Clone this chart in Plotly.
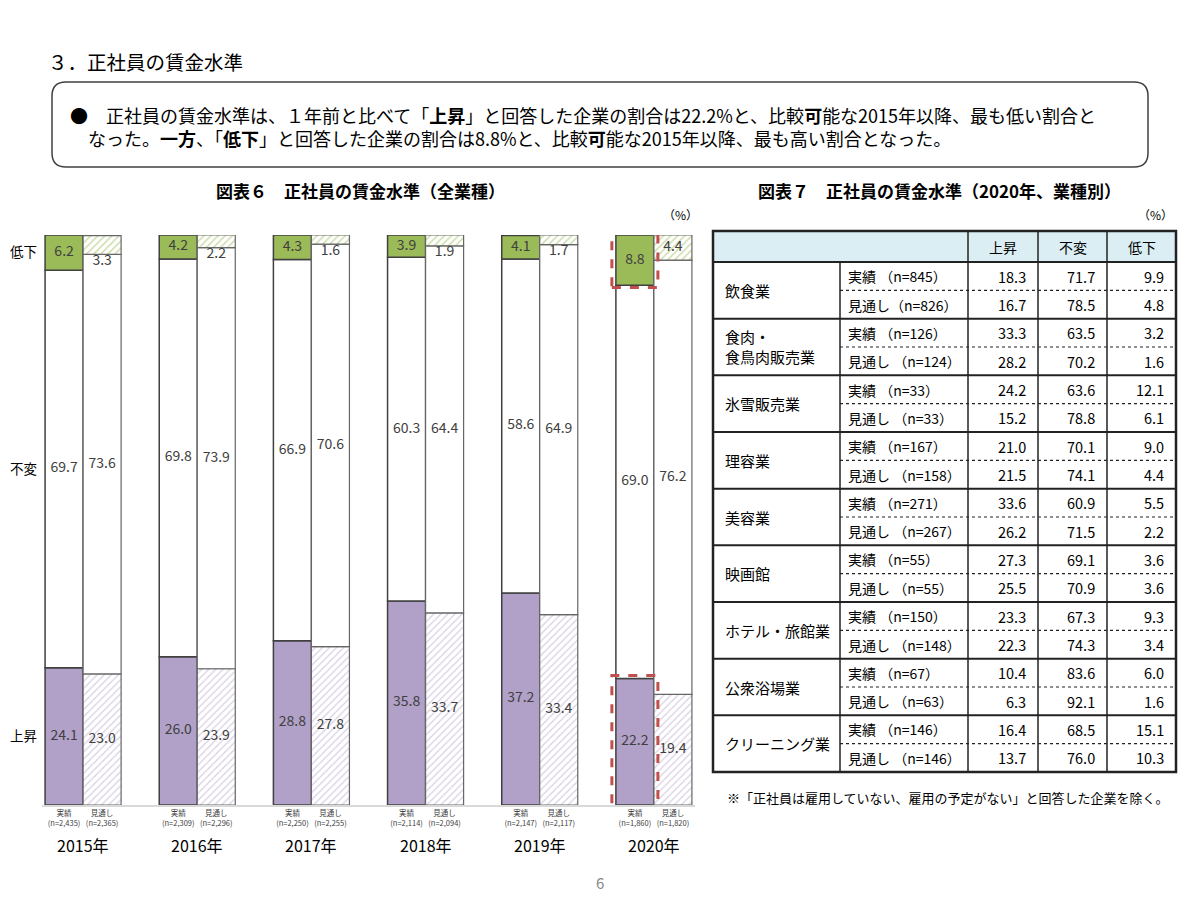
import plotly.graph_objects as go

# the page body adds an 8px margin, so the figure is drawn 8px in from the window edge
PAD = 8
W, H = 1200 - PAD, 900 - PAD
FONT = "Noto Sans CJK JP"

# 図表6 data
years = ["2015年", "2016年", "2017年", "2018年", "2019年", "2020年"]
n_actual = ["2,435", "2,309", "2,250", "2,114", "2,147", "1,860"]
n_forecast = ["2,365", "2,296", "2,255", "2,094", "2,117", "1,820"]
up_actual = [24.1, 26.0, 28.8, 35.8, 37.2, 22.2]
same_actual = [69.7, 69.8, 66.9, 60.3, 58.6, 69.0]
down_actual = [6.2, 4.2, 4.3, 3.9, 4.1, 8.8]
up_forecast = [23.0, 23.9, 27.8, 33.7, 33.4, 19.4]
same_forecast = [73.6, 73.9, 70.6, 64.4, 64.9, 76.2]
down_forecast = [3.3, 2.2, 1.6, 1.9, 1.7, 4.4]

# 図表7 data
industries = ["飲食業", "食肉・<br>食鳥肉販売業", "氷雪販売業", "理容業", "美容業",
              "映画館", "ホテル・旅館業", "公衆浴場業", "クリーニング業"]
ind_n_actual = [845, 126, 33, 167, 271, 55, 150, 67, 146]
ind_n_forecast = [826, 124, 33, 158, 267, 55, 148, 63, 146]
ind_up_actual = [18.3, 33.3, 24.2, 21.0, 33.6, 27.3, 23.3, 10.4, 16.4]
ind_same_actual = [71.7, 63.5, 63.6, 70.1, 60.9, 69.1, 67.3, 83.6, 68.5]
ind_down_actual = [9.9, 3.2, 12.1, 9.0, 5.5, 3.6, 9.3, 6.0, 15.1]
ind_up_forecast = [16.7, 28.2, 15.2, 21.5, 26.2, 25.5, 22.3, 6.3, 13.7]
ind_same_forecast = [78.5, 70.2, 78.8, 74.1, 71.5, 70.9, 74.3, 92.1, 76.0]
ind_down_forecast = [4.8, 1.6, 6.1, 4.4, 2.2, 3.6, 3.4, 1.6, 10.3]
table_cols = ["上昇", "不変", "低下"]

PURPLE = "#B1A0C7"
GREEN = "#9BBB59"
EDGE = "#404040"
BW = 0.333
OFF = BW / 2

xa = [i - OFF for i in range(len(years))]
xf = [i + OFF for i in range(len(years))]
base_same_a = up_actual
base_down_a = [u + s for u, s in zip(up_actual, same_actual)]
base_same_f = up_forecast
base_down_f = [u + s for u, s in zip(up_forecast, same_forecast)]


def px(x):
    return (x - PAD) / W


def py(y):
    return 1 - (y - PAD) / H


fig = go.Figure()

# 実績 bars
fig.add_bar(x=xa, y=up_actual, base=[0] * 6, width=BW,
            marker=dict(color=PURPLE, line=dict(color=EDGE, width=1.5)))
fig.add_bar(x=xa, y=same_actual, base=base_same_a, width=BW,
            marker=dict(color="white", line=dict(color=EDGE, width=1.5)))
fig.add_bar(x=xa, y=down_actual, base=base_down_a, width=BW,
            marker=dict(color=GREEN, line=dict(color=EDGE, width=1.5)))
# 見通し bars (hatched)
fig.add_bar(x=xf, y=up_forecast, base=[0] * 6, width=BW,
            marker=dict(color="white", line=dict(color="#666666", width=1.2),
                        pattern=dict(shape="/", fgcolor=PURPLE, bgcolor="white", size=5, solidity=0.25)))
fig.add_bar(x=xf, y=same_forecast, base=base_same_f, width=BW,
            marker=dict(color="white", line=dict(color="#666666", width=1.2)))
fig.add_bar(x=xf, y=down_forecast, base=base_down_f, width=BW,
            marker=dict(color="white", line=dict(color="#666666", width=1.2),
                        pattern=dict(shape="/", fgcolor=GREEN, bgcolor="white", size=5, solidity=0.3)))

lab_font = dict(family=FONT, size=14, color=EDGE)


def fmt(vals):
    return [f"{v:.1f}" for v in vals]


fig.add_scatter(x=xa, y=[v / 2 for v in up_actual], mode="text", text=fmt(up_actual), textfont=lab_font)
fig.add_scatter(x=xa, y=[b + v / 2 for b, v in zip(base_same_a, same_actual)], mode="text",
                text=fmt(same_actual), textfont=lab_font)
fig.add_scatter(x=xa, y=[b + v / 2 for b, v in zip(base_down_a, down_actual)], mode="text",
                text=fmt(down_actual), textfont=lab_font)
fig.add_scatter(x=xf, y=[v / 2 for v in up_forecast], mode="text", text=fmt(up_forecast), textfont=lab_font)
fig.add_scatter(x=xf, y=[b + v / 2 for b, v in zip(base_same_f, same_forecast)], mode="text",
                text=fmt(same_forecast), textfont=lab_font)
# small 低下 forecast labels sit just under their segment
fig.add_scatter(x=xf, y=[b if v < 4 else b + v / 2 for b, v in zip(base_down_f, down_forecast)], mode="text",
                text=fmt(down_forecast), textfont=lab_font,
                textposition=["bottom center" if v < 4 else "middle center" for v in down_forecast])

# red dashed highlight boxes on 2020 実績
red = dict(color="#C0504D", width=3, dash="dash")
fig.add_shape(type="rect", xref="x", yref="y", x0=xa[5] - OFF - 0.035, x1=xa[5] + OFF + 0.035,
              y0=base_down_a[5] - 0.4, y1=101.0, line=red)
fig.add_shape(type="rect", xref="x", yref="y", x0=xa[5] - OFF - 0.035, x1=xa[5] + OFF + 0.035,
              y0=-0.35, y1=up_actual[5] + 0.5, line=red)

fig.update_layout(
    width=W, height=H, margin=dict(l=0, r=0, t=0, b=0),
    paper_bgcolor="white", plot_bgcolor="white",
    barmode="overlay", showlegend=False,
    font=dict(family=FONT, color="black"),
    xaxis=dict(domain=[px(42), px(695)], range=[-0.36, 5.36],
               tickvals=xa + xf,
               ticktext=[f"実績<br>(n={n})" for n in n_actual] + [f"見通し<br>(n={n})" for n in n_forecast],
               tickfont=dict(size=7.5, color=EDGE), tickangle=0, ticks="",
               showgrid=False, zeroline=False, showline=True, linecolor="#D9D9D9", linewidth=2),
    yaxis=dict(domain=[py(805), py(235)], range=[0, 100],
               tickvals=[up_actual[0] / 2, base_same_a[0] + same_actual[0] / 2, base_down_a[0] + down_actual[0] / 2],
               ticktext=["上昇", "不変", "低下"], tickfont=dict(size=13.5, color="black"),
               ticks="", ticklabelstandoff=4, showgrid=False, zeroline=False, showline=False),
)

ann = []


def text(x, y, s, size=13, xanchor="left", color="black"):
    ann.append(dict(xref="paper", yref="paper", x=px(x), y=py(y), text=s, showarrow=False,
                    xanchor=xanchor, yanchor="middle", align="left",
                    font=dict(size=size, color=color, family=FONT)))


# years under groups
for i, yr in enumerate(years):
    ann.append(dict(xref="x", yref="paper", x=i, y=py(845), text=yr, showarrow=False,
                    yanchor="middle", font=dict(size=16, color="black", family=FONT)))

# page heading and summary box
text(46, 62, "３．正社員の賃金水準", size=19.5)
r = 14
x0, x1, y0, y1 = px(52), px(1148), py(82), py(167)
rx, ry = r / W, r / H
path = (f"M {x0 + rx},{y0} L {x1 - rx},{y0} Q {x1},{y0} {x1},{y0 - ry} "
        f"L {x1},{y1 + ry} Q {x1},{y1} {x1 - rx},{y1} L {x0 + rx},{y1} "
        f"Q {x0},{y1} {x0},{y1 + ry} L {x0},{y0 - ry} Q {x0},{y0} {x0 + rx},{y0} Z")
fig.add_shape(type="path", xref="paper", yref="paper", path=path, line=dict(color="#404040", width=1.5))
text(68, 126.5, "●　正社員の賃金水準は、１年前と比べて「<b>上昇</b>」と回答した企業の割合は22.2%と、"
                "比較<b>可</b>能な2015年以降、最も低い割合と<br>"
                "　なった。<b>一方</b>、「<b>低下</b>」と回答した企業の割合は8.8%と、比較<b>可</b>能な2015年以降、"
                "最も高い割合となった。", size=18)

# chart titles
text(360, 191, "<b>図表６　正社員の賃金水準（全業種）</b>", size=17, xanchor="center")
text(680, 214, "（%）", size=12, xanchor="center")
text(939, 191, "<b>図表７　正社員の賃金水準（2020年、業種別）</b>", size=17, xanchor="center")
text(1155, 214, "（%）", size=12, xanchor="center")

# table
cx = [713, 840, 968, 1038, 1107, 1176]
top, head_bot, bot = 231, 262, 772
gh = (bot - head_bot) / len(industries)

fig.add_shape(type="rect", xref="paper", yref="paper", x0=px(cx[0]), x1=px(cx[-1]), y0=py(top), y1=py(head_bot),
              fillcolor="#DAEEF3", line=dict(width=0), layer="below")


def hline(x_a, x_b, y, width=1.5, dash="solid"):
    fig.add_shape(type="line", xref="paper", yref="paper", x0=px(x_a), x1=px(x_b), y0=py(y), y1=py(y),
                  line=dict(color="#222222", width=width, dash=dash))


def vline(x, y_a, y_b, width=1.5):
    fig.add_shape(type="line", xref="paper", yref="paper", x0=px(x), x1=px(x), y0=py(y_a), y1=py(y_b),
                  line=dict(color="#222222", width=width))


for j, c in enumerate(table_cols):
    text((cx[j + 2] + cx[j + 3]) / 2, (top + head_bot) / 2, c, size=14, xanchor="center")

for i, name in enumerate(industries):
    g0 = head_bot + i * gh
    mid = g0 + gh / 2
    if i > 0:
        hline(cx[0], cx[-1], g0, width=2)
    hline(cx[1], cx[-1], mid, width=1.2, dash="dot")
    text(cx[0] + 10, mid, name, size=15)
    sep = "" if i == 0 else " "
    text(cx[1] + 6, g0 + gh / 4, f"実績 （n={ind_n_actual[i]}）", size=14)
    text(cx[1] + 6, g0 + 3 * gh / 4, f"見通し{sep}（n={ind_n_forecast[i]}）", size=14)
    actual = [ind_up_actual[i], ind_same_actual[i], ind_down_actual[i]]
    fcst = [ind_up_forecast[i], ind_same_forecast[i], ind_down_forecast[i]]
    for j in range(3):
        text(cx[j + 3] - 10, g0 + gh / 4, f"{actual[j]:.1f}", size=14.5, xanchor="right")
        text(cx[j + 3] - 10, g0 + 3 * gh / 4, f"{fcst[j]:.1f}", size=14.5, xanchor="right")

hline(cx[0], cx[-1], head_bot, width=2)
vline(cx[1], head_bot, bot)
for c in cx[2:5]:
    vline(c, top, bot)
fig.add_shape(type="rect", xref="paper", yref="paper", x0=px(cx[0]), x1=px(cx[-1]), y0=py(top), y1=py(bot),
              line=dict(color="#222222", width=2.5))

text(725, 797, "※「正社員は雇用していない、雇用の予定がない」と回答した企業を除く。", size=13)
text(600, 882, "6", size=15, xanchor="center", color="#888888")

fig.update_layout(annotations=ann)
fig.write_html("out.html")
